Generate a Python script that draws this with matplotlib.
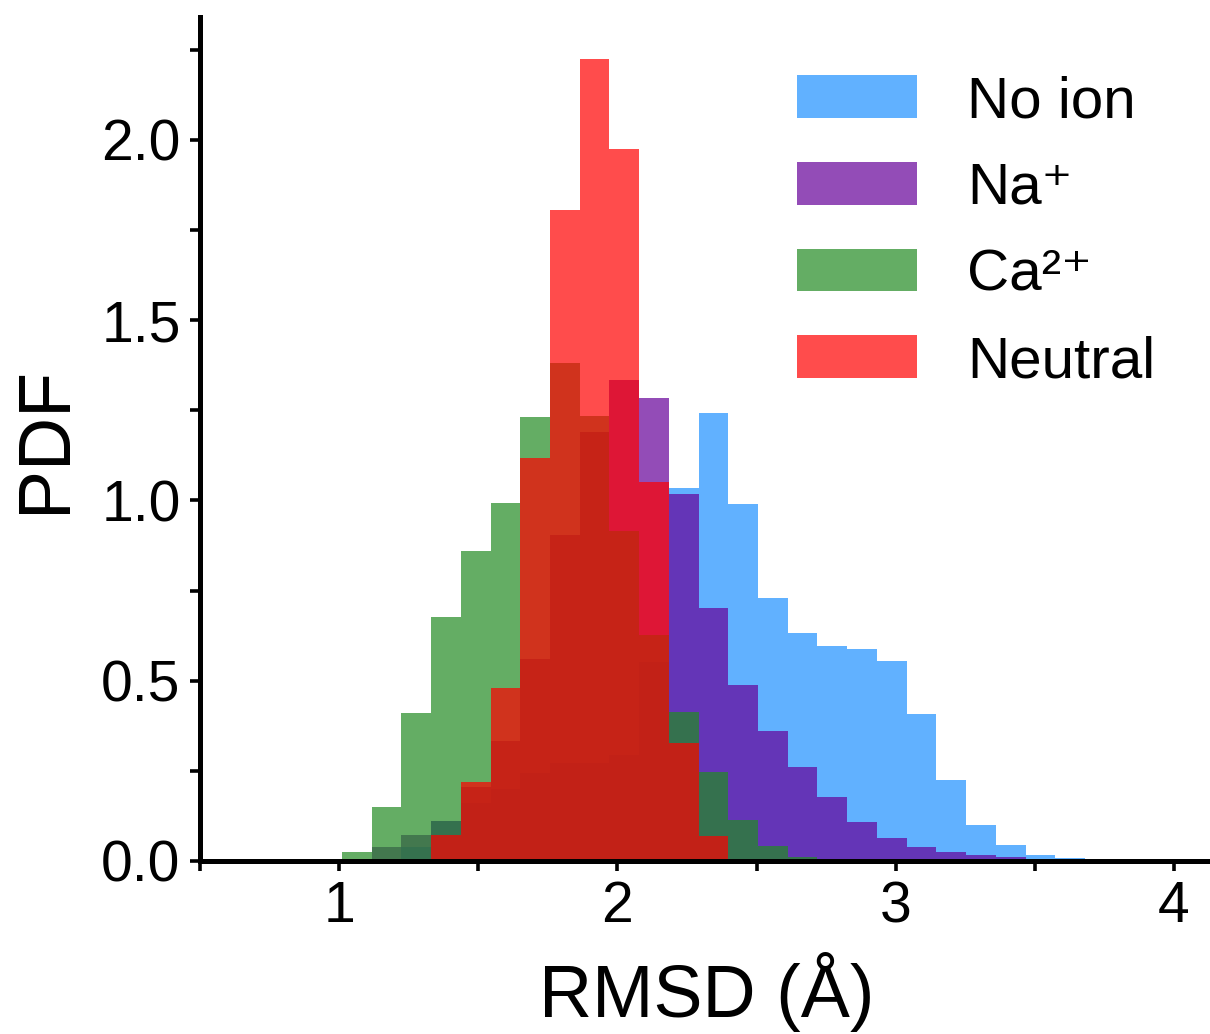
import numpy as np
import matplotlib
matplotlib.use("Agg")
import matplotlib.pyplot as plt
from matplotlib.ticker import MultipleLocator

plt.rcParams['font.family'] = ['Liberation Sans', 'DejaVu Sans']

# histogram grid (RMSD, Angstrom)
bin_start = 1.01
bin_width = 0.1068
n_bins = 25
rmsd_edges = bin_start + bin_width * np.arange(n_bins + 1)

# PDF values per bin
pdf_no_ion = [0.0, 0.0, 0.04, 0.111, 0.162, 0.20, 0.244, 0.272, 0.272, 0.294,
              0.553, 1.035, 1.242, 0.989, 0.729, 0.632, 0.597, 0.589, 0.555, 0.408,
              0.225, 0.100, 0.043, 0.017, 0.009]
pdf_na = [0.0, 0.04, 0.072, 0.111, 0.206, 0.334, 0.561, 0.904, 1.191, 1.334,
          1.284, 1.019, 0.701, 0.488, 0.361, 0.262, 0.178, 0.107, 0.065, 0.040,
          0.025, 0.017, 0.010, 0.005, 0.0]
pdf_ca = [0.026, 0.151, 0.41, 0.676, 0.86, 0.992, 1.231, 1.381, 1.233, 0.916,
          0.627, 0.412, 0.246, 0.114, 0.042, 0.012, 0.0, 0.0, 0.0, 0.0,
          0.0, 0.0, 0.0, 0.0, 0.0]
pdf_neutral = [0.0, 0.0, 0.0, 0.072, 0.218, 0.479, 1.117, 1.806, 2.224, 1.974,
               1.050, 0.328, 0.069, 0.005, 0.0, 0.0, 0.0, 0.0, 0.0, 0.0,
               0.0, 0.0, 0.0, 0.0, 0.0]

labels = ["No ion", "Na⁺", "Ca²⁺", "Neutral"]
colors = ["dodgerblue", "#660099", "forestgreen", "red"]
series = [pdf_no_ion, pdf_na, pdf_ca, pdf_neutral]

fig = plt.figure(figsize=(12.1, 10.34), dpi=100)
ax = fig.add_axes([200 / 1210, (1034 - 861) / 1034, (1213 - 200) / 1210, (861 - 17) / 1034])

centers = rmsd_edges[:-1] + bin_width / 2
for vals, c, lab in zip(series, colors, labels):
    ax.hist(centers, bins=rmsd_edges, weights=vals, color=c, alpha=0.7,
            label=lab, linewidth=0)

ax.set_xlim(0.5, 4.14)
ax.set_ylim(0, 2.341)
ax.xaxis.set_major_locator(MultipleLocator(1))
ax.xaxis.set_minor_locator(MultipleLocator(0.5))
ax.yaxis.set_major_locator(MultipleLocator(0.5))
ax.yaxis.set_minor_locator(MultipleLocator(0.25))
ax.yaxis.set_major_formatter(matplotlib.ticker.FormatStrFormatter('%.1f'))

for s in ['top', 'right']:
    ax.spines[s].set_visible(False)
for s in ['left', 'bottom']:
    ax.spines[s].set_linewidth(3.6)

ax.tick_params(which='both', direction='out', length=7, width=2.6, labelsize=41, pad=7)

ax.set_xlabel("RMSD (Å)", fontsize=53, labelpad=13)
ax.set_ylabel("PDF", fontsize=53, labelpad=15)

ax.legend(loc='upper left', bbox_to_anchor=(797 / 1210, 1 - 75 / 1034),
          bbox_transform=fig.transFigure, frameon=False, fontsize=42,
          borderpad=0, borderaxespad=0, handlelength=2.06, handleheight=0.75,
          handletextpad=0.86, labelspacing=0.56)

fig.savefig("out.png", dpi=100)
